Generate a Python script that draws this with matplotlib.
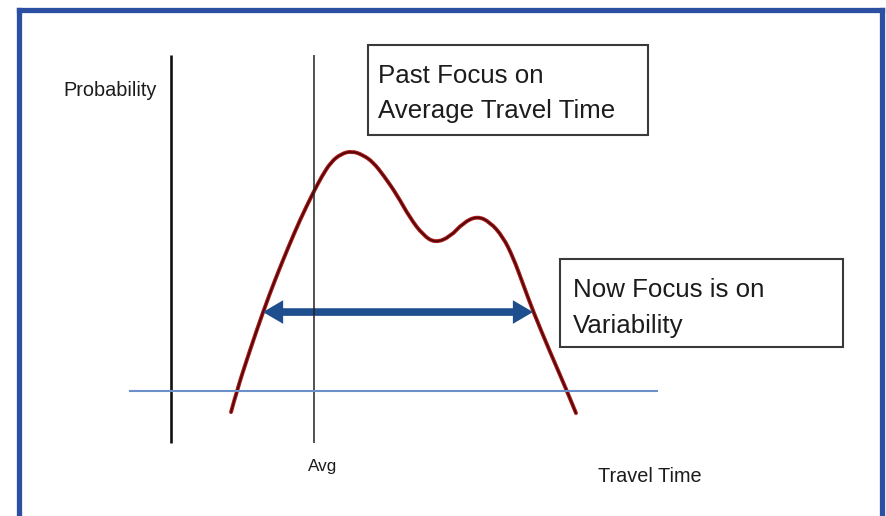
import matplotlib
matplotlib.use("Agg")
import matplotlib.pyplot as plt
import matplotlib.transforms as mtransforms
from matplotlib.patches import Rectangle, FancyArrowPatch, PathPatch
from matplotlib.lines import Line2D
from matplotlib.path import Path

# travel-time distribution (arbitrary units)
curve_time = [1.235, 1.358, 1.626, 1.893, 2.140, 2.407, 2.654, 2.922, 3.107, 3.292,
              3.498, 3.724, 3.951, 4.156, 4.383, 4.650, 4.918, 5.185, 5.432, 5.741,
              6.008, 6.296, 6.564, 6.831, 7.037, 7.243, 7.449, 7.798, 8.148, 8.333]
curve_prob = [-0.088, 0.004, 0.171, 0.329, 0.463, 0.596, 0.713, 0.825, 0.896, 0.954,
              0.988, 1.0, 0.983, 0.954, 0.896, 0.817, 0.721, 0.650, 0.617, 0.642,
              0.700, 0.729, 0.704, 0.642, 0.558, 0.446, 0.333, 0.163, 0.0, -0.092]
avg_time = 2.94
spread_time = [1.893, 7.449]
spread_prob = 0.329
baseline_time = [-0.844, 10.0]
axis_prob = [-0.217, 1.4]

labels = {
    "y": "Probability",
    "x": "Travel Time",
    "avg": "Avg",
    "past": ["Past Focus on", "Average Travel Time"],
    "now": ["Now Focus is on", "Variability"],
}

W, H = 886, 516
plt.rcParams["font.family"] = ["Liberation Sans", "DejaVu Sans"]

fig = plt.figure(figsize=(W / 100, H / 100), dpi=100)
ax = fig.add_axes([0, 0, 1, 1])
ax.set_axis_off()
# data units -> pixels: 48.6 px per time unit from x=171, 240 px per prob unit from y=391
ax.set_xlim(-171 / 48.6, (W - 171) / 48.6)
ax.set_ylim(-(H - 391) / 240, 391 / 240)

# pixel-space transform for decorations (origin top-left)
px = mtransforms.Affine2D().scale(1 / W, -1 / H).translate(0, 1) + fig.transFigure

# frame
frame_kw = dict(color="#2b50a3", lw=3.8, transform=px, solid_capstyle="projecting")
fig.add_artist(Line2D([19.5, 19.5], [H + 5, 10], **frame_kw))
fig.add_artist(Line2D([19.5, 882], [10, 10], **frame_kw))
fig.add_artist(Line2D([882, 882], [10, H + 5], **frame_kw))

# axes lines
ax.plot([0, 0], axis_prob, color="#111111", lw=1.9, solid_capstyle="butt")
ax.plot([avg_time, avg_time], axis_prob, color="#222222", lw=1.1, solid_capstyle="butt")
ax.plot(baseline_time, [0, 0], color="#6b90c9", lw=1.5)

# distribution, drawn as a smooth quadratic path through the read points
pts = list(zip(curve_time, curve_prob))
verts, codes = [pts[0]], [Path.MOVETO]
for p, q in zip(pts[1:-2], pts[2:-1]):
    verts += [p, ((p[0] + q[0]) / 2, (p[1] + q[1]) / 2)]
    codes += [Path.CURVE3, Path.CURVE3]
verts += [pts[-2], pts[-1]]
codes += [Path.CURVE3, Path.CURVE3]
curve = Path(verts, codes)
ax.add_patch(PathPatch(curve, fill=False, ec="#a81818", lw=2.8, capstyle="round",
                       joinstyle="round"))
ax.add_patch(PathPatch(curve, fill=False, ec="#4a0606", lw=1.1, capstyle="round",
                       joinstyle="round"))

# double arrow for the spread
mid = (spread_time[0] + spread_time[1]) / 2
for end in spread_time:
    ax.add_patch(FancyArrowPatch(
        (mid, spread_prob), (end, spread_prob),
        arrowstyle="simple,head_length=14.5,head_width=17,tail_width=5.5",
        mutation_scale=1, color="#1f4e8e", lw=0, shrinkA=0, shrinkB=0))

# text
tc = "#1c1c1c"
fig.text(63, 96.5, labels["y"], transform=px, fontsize=14.3, color=tc, va="baseline")
fig.text(308, 471.5, labels["avg"], transform=px, fontsize=12.3, color=tc, va="baseline")
fig.text(598, 482.5, labels["x"], transform=px, fontsize=14.3, color=tc, va="baseline")

fig.add_artist(Rectangle((368, 45), 280, 90, transform=px, fill=False,
                         ec="#3a3a3a", lw=1.5))
for i, line in enumerate(labels["past"]):
    fig.text(378, 82.7 + 35 * i, line, transform=px, fontsize=18.6, color=tc,
             va="baseline")

fig.add_artist(Rectangle((560, 259), 283, 88, transform=px, fill=False,
                         ec="#3a3a3a", lw=1.5))
for i, line in enumerate(labels["now"]):
    fig.text(573, 296.7 + 36.6 * i, line, transform=px, fontsize=18.6, color=tc,
             va="baseline")

fig.savefig("out.png", dpi=100, facecolor="white")
